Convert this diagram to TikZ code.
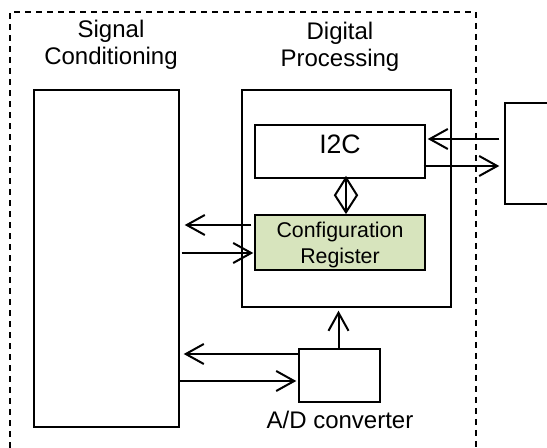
\documentclass[tikz,border=0pt]{standalone}
\usepackage{fontspec}
\setmainfont{Liberation Sans}
\usetikzlibrary{arrows.meta,calc}
\definecolor{cfggreen}{RGB}{215,228,189}
\begin{document}
\begin{tikzpicture}[x=0.75pt,y=-0.75pt,
  box/.style={draw=black,line width=1.1pt,inner sep=0pt,rectangle},
  arr/.style={line width=1.5pt,-{Straight Barb[length=13.5pt,width=15pt]}},
  lnk/.style={line width=1.5pt},
  frame/.style={line width=1.1pt,dash pattern=on 4.5pt off 3.75pt},
  hdr/.style={font=\fontsize{18}{20}\selectfont,align=center,inner sep=0pt},
  lbl/.style={inner sep=0pt,align=center}]
\useasboundingbox (0,0) rectangle (547,448);
\clip (0,0) rectangle (547,448);
% outer dashed frame
\draw[frame] (10,470) -- (10,12) -- (476,12) -- (476,470);
% boxes
\node[box,minimum width=108.75pt,minimum height=252.75pt] (sig) at (106.5,258.5) {};
\node[box,minimum width=156.75pt,minimum height=162.75pt] (dig) at (346.5,198.5) {};
\node[box,minimum width=127.5pt,minimum height=39.75pt] (i2c) at (340,151.5) {};
\node[box,fill=cfggreen,minimum width=127.5pt,minimum height=41.25pt] (cfg) at (340,242.5) {};
\node[box,minimum width=60.75pt,minimum height=39.75pt] (ad) at (339.5,375.5) {};
\node[box,minimum width=75pt,minimum height=75.75pt] (ext) at (555,153.5) {};
% texts
\node[hdr] (sigt) at (111,45) {Signal\\Conditioning};
\node[hdr] (digt) at (340,47) {Digital\\Processing};
\node[lbl,font=\fontsize{20}{22}\selectfont] (i2ct) at (340,144.5) {I2C};
\node[lbl,font=\fontsize{16}{19}\selectfont] (cfgt) at (340,245) {Configuration\\Register};
\node[lbl,font=\fontsize{18}{20}\selectfont] (adt) at (340,420) {A/D converter};
% connectors
\draw[arr] ($(cfg.west)+(-3,-17.5)$) -- ($(sig.east)+(5,-33.5)$);
\draw[arr] ($(sig.east)+(2,-5.5)$) -- ($(cfg.west)+(-1,10.5)$);
\draw[arr] ($(ext.west)+(-5,-14.5)$) -- ($(i2c.east)+(2,-12.5)$);
\draw[arr] ($(i2c.east)+(-2,14.5)$) -- ($(ext.west)+(-5,12.5)$);
\draw[arr] ($(ad.north)+(-1,0)$) -- ($(dig.south)+(-8,3)$);
\draw[arr] ($(ad.west)+(0,-21.5)$) -- ($(sig.east)+(4,95.5)$);
\draw[arr] ($(sig.east)+(-1,122.5)$) -- ($(ad.west)+(-2,5.5)$);
% I2C <-> configuration register link
\coordinate (dt) at ($(i2c.south)+(6,-1)$);
\coordinate (db) at ($(cfg.north)+(6,-2)$);
\draw[lnk] (dt) -- (db);
\draw[lnk,line join=miter] (dt) -- ($(dt)+(-11,17.5)$) -- (db) -- ($(dt)+(11,17.5)$) -- cycle;
\end{tikzpicture}
\end{document}
